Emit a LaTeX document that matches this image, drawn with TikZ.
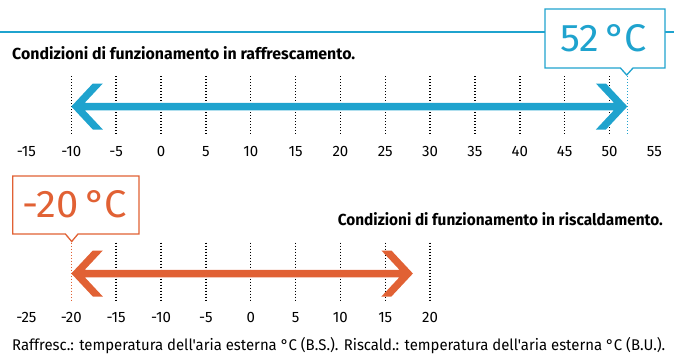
\documentclass[tikz,border=0pt]{standalone}
\usepackage{fontspec}
\setmainfont{Fira Sans}
\newfontfamily\dinfont{Fira Sans}
\definecolor{cblue}{RGB}{31,163,206}
\definecolor{corange}{RGB}{225,97,52}
\newcommand\dblarrow[4]{%
  \fill[#4] (#1,#3) -- ({#1+21.5},{#3-23}) -- ({#1+31.5},{#3-23}) -- ({#1+13.5},{#3-3.75})
   -- ({#2-13.5},{#3-3.75}) -- ({#2-31.5},{#3-23}) -- ({#2-21.5},{#3-23}) -- (#2,#3)
   -- ({#2-21.5},{#3+23}) -- ({#2-31.5},{#3+23}) -- ({#2-13.5},{#3+3.75})
   -- ({#1+13.5},{#3+3.75}) -- ({#1+31.5},{#3+23}) -- ({#1+21.5},{#3+23}) -- cycle;}
\begin{document}
\begin{tikzpicture}[x=1pt,y=-1pt,
  ticklab/.style={font=\dinfont\fontsize{15}{16}\selectfont, anchor=base, inner sep=0pt},
  titlelab/.style={font=\dinfont\bfseries\fontsize{16}{17}\selectfont, inner sep=0pt},
  biglab/.style={font=\dinfont\fontsize{38.5}{40}\selectfont, anchor=base, inner sep=0pt},
  dotline/.style={line width=1.4pt, dash pattern=on 1.3pt off 1.7pt},
  boxline/.style={line width=1.3pt, fill=white, line join=miter}]
\useasboundingbox (0,0) rectangle (674,354);

% ---------- cooling (top) ----------
\draw[cblue, line width=1.2pt] (0,32) -- (545,32);
\draw[cblue, line width=1.2pt] (665,32) -- (674,32);
\draw[cblue, boxline] (545,9) -- (665,9) -- (665,68) -- (633,68) -- (626.7,75) -- (620.4,68) -- (545,68) -- cycle;
\node[cblue, biglab] (t52) at (603.5,51.7) {\resizebox{87pt}{\height}{52\,°\kern-0.04em C}};

\node[titlelab, anchor=base west] (title1) at (12,59) {\resizebox{343pt}{\height}{Condizioni di funzionamento in raffrescamento.}};

\foreach \v in {-10,-5,...,50} {
  \pgfmathsetmacro\xx{161+8.97*\v}
  \coordinate (ca\v) at (\xx,76);
  \coordinate (cb\v) at (\xx,135);
  \draw[dotline] (ca\v) -- (cb\v);
}
\coordinate (ca52) at (627.4,76);
\coordinate (cb52) at (627.4,135);
\draw[dotline, cblue] (ca52) -- (cb52);

\dblarrow{71.3}{627.4}{106.5}{cblue}

\foreach \v in {-15,-10,...,55} {
  \pgfmathsetmacro\xx{161+8.97*\v}
  \node[ticklab] (ta\v) at (\xx,156) {\v};
}

% ---------- heating (bottom) ----------
\draw[corange, boxline] (12.7,176) -- (139,176) -- (139,234) -- (78,234) -- (71.7,241.5) -- (65.4,234) -- (12.7,234) -- cycle;
\node[corange, biglab] (t20) at (75,217.7) {\resizebox{104pt}{\height}{-20\,°\kern-0.04em C}};

\node[titlelab, anchor=base east] (title2) at (663,225) {\resizebox{325pt}{\height}{Condizioni di funzionamento in riscaldamento.}};

\foreach \v in {-15,-10,...,20} {
  \pgfmathsetmacro\xx{250.7+8.97*\v}
  \coordinate (da\v) at (\xx,242.5);
  \coordinate (db\v) at (\xx,302);
  \draw[dotline] (da\v) -- (db\v);
}
\coordinate (da-20) at (71.3,242.5);
\coordinate (db-20) at (71.3,302);
\draw[dotline, corange] (da-20) -- (db-20);

\dblarrow{71.3}{412.9}{273.5}{corange}

\foreach \v in {-25,-20,...,20} {
  \pgfmathsetmacro\xx{250.7+8.97*\v}
  \node[ticklab] (tb\v) at (\xx,322.5) {\v};
}

\node[font=\dinfont\fontsize{15.5}{16}\selectfont, anchor=base west, inner sep=0pt] (foot) at (12,350.3)
  {\resizebox{653pt}{\height}{Raffresc.: temperatura dell'aria esterna °C (B.S.). Riscald.: temperatura dell'aria esterna °C (B.U.).}};
\end{tikzpicture}
\end{document}
